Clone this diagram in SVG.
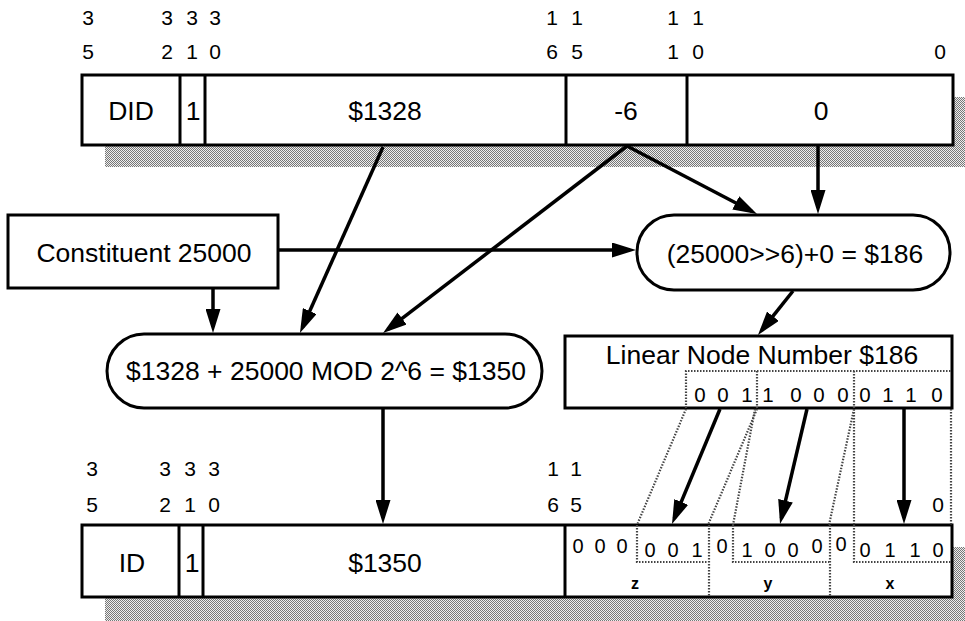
<svg xmlns="http://www.w3.org/2000/svg" width="965" height="621" viewBox="0 0 965 621">
<style>
text { font-family: "Liberation Sans", Arial, Helvetica, sans-serif; fill: #000; }
.lbl { font-size: 26.5px; text-anchor: middle; }
.hdr { font-size: 21px; text-anchor: middle; }
.bit { font-size: 20.5px; text-anchor: middle; }
.bb { font-size: 20px; text-anchor: middle; }
.fld { font-size: 16px; font-weight: bold; text-anchor: middle; }
.box { fill: #fff; stroke: #000; stroke-width: 3; }
.div { stroke: #000; stroke-width: 3; fill: none; }
.conn { stroke: #000; stroke-width: 3.5; fill: none; marker-end: url(#ah); }
.dot { stroke: #444; stroke-width: 2.2; stroke-dasharray: 1.5 1.5; fill: none; }
.shadow { fill: url(#stip); }
</style>
<defs>
<pattern id="stip" width="2" height="2" patternUnits="userSpaceOnUse">
<rect width="2" height="2" fill="#eee"/>
<rect width="1" height="1" fill="#777"/>
<rect x="1" y="1" width="1" height="1" fill="#777"/>
</pattern>
<marker id="ah" markerUnits="userSpaceOnUse" markerWidth="24" markerHeight="15" refX="18" refY="7.5" orient="auto">
<path d="M0,0 L24,7.5 L0,15 z" fill="#000"/>
</marker>
</defs>
<rect width="965" height="621" fill="#fff"/>

<g id="top-register">
<rect class="shadow" x="105" y="97" width="860" height="70"/>
<rect class="box" x="82" y="75" width="871" height="70"/>
<line class="div" x1="180" y1="75" x2="180" y2="145"/>
<line class="div" x1="205" y1="75" x2="205" y2="145"/>
<line class="div" x1="566" y1="75" x2="566" y2="145"/>
<line class="div" x1="687" y1="75" x2="687" y2="145"/>
<text class="lbl" x="131" y="120">DID</text>
<text class="lbl" x="193" y="120">1</text>
<text class="lbl" x="385" y="120">$1328</text>
<text class="lbl" x="626" y="120">-6</text>
<text class="lbl" x="821" y="120">0</text>
<g class="hdrs">
<text class="hdr" x="88" y="25">3</text>
<text class="hdr" x="167" y="25">3</text>
<text class="hdr" x="192" y="25">3</text>
<text class="hdr" x="215" y="25">3</text>
<text class="hdr" x="552" y="25">1</text>
<text class="hdr" x="577" y="25">1</text>
<text class="hdr" x="673" y="25">1</text>
<text class="hdr" x="698" y="25">1</text>
<text class="hdr" x="88" y="59">5</text>
<text class="hdr" x="167" y="59">2</text>
<text class="hdr" x="192" y="59">1</text>
<text class="hdr" x="215" y="59">0</text>
<text class="hdr" x="552" y="59">6</text>
<text class="hdr" x="577" y="59">5</text>
<text class="hdr" x="673" y="59">1</text>
<text class="hdr" x="698" y="59">0</text>
<text class="hdr" x="940" y="59">0</text>
</g>
</g>

<g id="constituent">
<rect class="box" x="8" y="215" width="270" height="73"/>
<text class="lbl" x="144" y="262">Constituent 25000</text>
</g>

<g id="shift-node">
<rect class="box" x="637" y="215" width="313" height="75" rx="37" ry="37"/>
<text class="lbl" x="795" y="263">(25000&gt;&gt;6)+0 = $186</text>
</g>

<g id="mod-node">
<rect class="box" x="107" y="334" width="435" height="74" rx="37" ry="37"/>
<text class="lbl" x="326" y="380">$1328 + 25000 MOD 2^6 = $1350</text>
</g>

<g id="linear-node">
<rect class="box" x="565" y="336" width="387" height="72"/>
<text class="lbl" x="762" y="364">Linear Node Number $186</text>
<path class="dot" d="M686,408 V371 H951 M757,371 V408 M854,371 V408"/>
<text class="bit" x="700" y="402">0</text>
<text class="bit" x="723" y="402">0</text>
<text class="bit" x="747" y="402">1</text>
<text class="bit" x="768" y="402">1</text>
<text class="bit" x="796" y="402">0</text>
<text class="bit" x="819" y="402">0</text>
<text class="bit" x="843" y="402">0</text>
<text class="bit" x="865" y="402">0</text>
<text class="bit" x="888" y="402">1</text>
<text class="bit" x="911" y="402">1</text>
<text class="bit" x="937" y="402">0</text>
</g>

<g id="bottom-register">
<rect class="shadow" x="105" y="547" width="860" height="74"/>
<rect class="box" x="82" y="525" width="870" height="72"/>
<line class="div" x1="179" y1="525" x2="179" y2="597"/>
<line class="div" x1="203" y1="525" x2="203" y2="597"/>
<line class="div" x1="565" y1="525" x2="565" y2="597"/>
<path class="dot" d="M637,525 V562 H708 M709,525 V597 M733,525 V562 H829 M830,525 V597 M854,525 V562 H951"/>
<text class="lbl" x="132" y="572">ID</text>
<text class="lbl" x="192" y="572">1</text>
<text class="lbl" x="385" y="572">$1350</text>
<text class="bb" x="578" y="553">0</text>
<text class="bb" x="600" y="553">0</text>
<text class="bb" x="622" y="553">0</text>
<text class="bb" x="650" y="557">0</text>
<text class="bb" x="673" y="557">0</text>
<text class="bb" x="697" y="557">1</text>
<text class="bb" x="722" y="553">0</text>
<text class="bb" x="747" y="557">1</text>
<text class="bb" x="770" y="557">0</text>
<text class="bb" x="793" y="557">0</text>
<text class="bb" x="817" y="553">0</text>
<text class="bb" x="841" y="551">0</text>
<text class="bb" x="865" y="557">0</text>
<text class="bb" x="890" y="557">1</text>
<text class="bb" x="915" y="557">1</text>
<text class="bb" x="938" y="557">0</text>
<text class="fld" x="635" y="589">z</text>
<text class="fld" x="768" y="589">y</text>
<text class="fld" x="890" y="589">x</text>
<g class="hdrs">
<text class="hdr" x="92" y="476">3</text>
<text class="hdr" x="165" y="476">3</text>
<text class="hdr" x="190" y="476">3</text>
<text class="hdr" x="214" y="476">3</text>
<text class="hdr" x="553" y="476">1</text>
<text class="hdr" x="576" y="476">1</text>
<text class="hdr" x="92" y="512">5</text>
<text class="hdr" x="165" y="512">2</text>
<text class="hdr" x="190" y="512">1</text>
<text class="hdr" x="214" y="512">0</text>
<text class="hdr" x="553" y="512">6</text>
<text class="hdr" x="576" y="512">5</text>
<text class="hdr" x="938" y="512">0</text>
</g>
</g>

<g id="connectors">
<line class="conn" x1="383" y1="147" x2="302.4" y2="327.5"/>
<line class="conn" x1="627" y1="146" x2="387.8" y2="329.4"/>
<line class="conn" x1="627" y1="146" x2="751.7" y2="211.2"/>
<line class="conn" x1="818" y1="146" x2="818" y2="208"/>
<line class="conn" x1="279" y1="250" x2="630" y2="250"/>
<line class="conn" x1="213" y1="289" x2="213" y2="327"/>
<line class="conn" x1="793" y1="291" x2="761.7" y2="330.3"/>
<line class="conn" x1="383" y1="409" x2="383" y2="518"/>
<line class="conn" x1="720" y1="409" x2="674.3" y2="518.5"/>
<line class="conn" x1="807" y1="409" x2="781.4" y2="518.2"/>
<line class="conn" x1="904" y1="409" x2="904" y2="518"/>
<g id="bit-projections">
<line class="dot" x1="686" y1="409" x2="637" y2="525"/>
<line class="dot" x1="757" y1="409" x2="708" y2="525"/>
<line class="dot" x1="755" y1="409" x2="733" y2="525"/>
<line class="dot" x1="854" y1="409" x2="829" y2="525"/>
<line class="dot" x1="854" y1="409" x2="854" y2="525"/>
<line class="dot" x1="951" y1="409" x2="951" y2="525"/>
</g>
</g>
</svg>
